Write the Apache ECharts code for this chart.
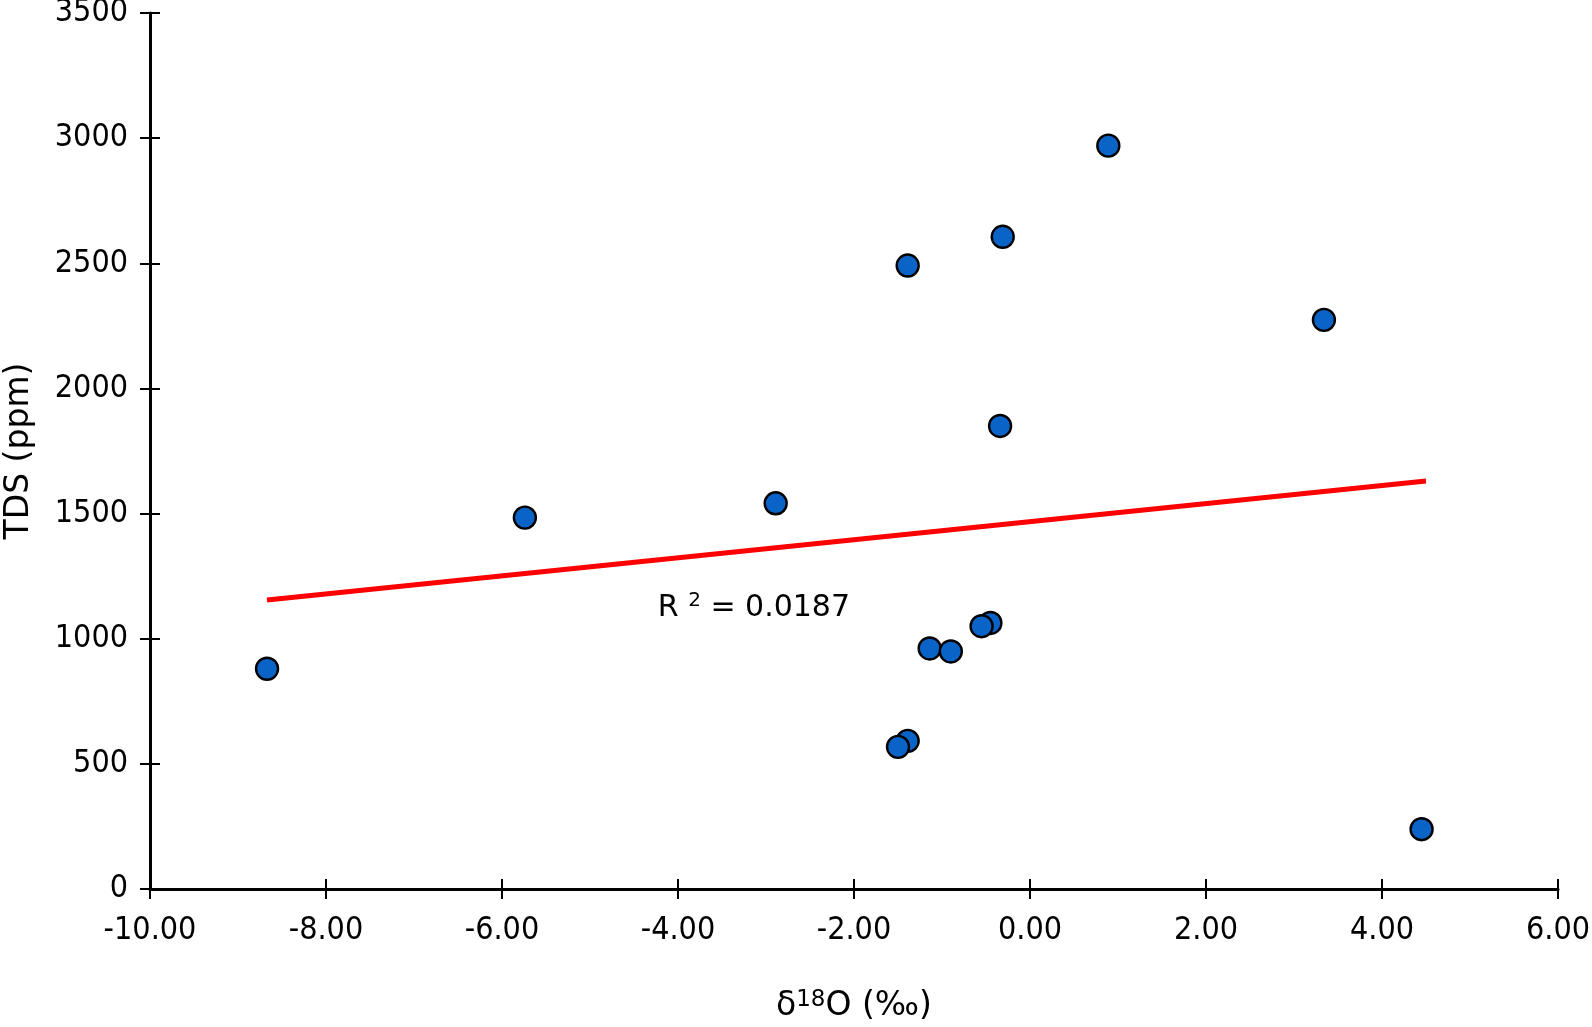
<!DOCTYPE html>
<html>
<head>
<meta charset="utf-8">
<script src="https://cdn.jsdelivr.net/npm/echarts@6/dist/echarts.min.js"></script>
<style>
html,body{margin:0;padding:0;background:#fff;}
#chart{width:1592px;height:1027px;}
</style>
</head>
<body>
<div id="chart"></div>
<script>
// δ18O (‰) values and TDS (ppm) values
const d18O = [-8.67, -5.74, -2.89, -1.39, -0.31, 0.89, 3.34, -0.34, -0.45, -0.55, -1.14, -0.90, -1.39, -1.50, 4.45];
const tds  = [880, 1484, 1541, 2491, 2606, 2970, 2274, 1850, 1063, 1050, 961, 949, 592, 568, 239];
// trend line end points
const trendX = [-8.67, 4.50];
const trendY = [1155, 1630];
// R² annotation
const r2Text = "0.0187";
const r2Pos = [-4.23, 1123];
const xTicks = { min: -10, max: 6, interval: 2 };
const yTicks = { min: 0, max: 3500, interval: 500 };

const FONT = '"DejaVu Sans Condensed", "DejaVu Sans", sans-serif';
const TFONT = '"DejaVu Sans", sans-serif';
const points = d18O.map((x, i) => [x, tds[i]]);
const trend = trendX.map((x, i) => [x, trendY[i]]);

const chart = echarts.init(document.getElementById('chart'), null, { renderer: 'canvas' });

const baseX = {
  type: 'value', min: xTicks.min, max: xTicks.max, interval: xTicks.interval,
  splitLine: { show: false }
};
const baseY = {
  type: 'value', min: yTicks.min, max: yTicks.max, interval: yTicks.interval,
  splitLine: { show: false }
};

chart.setOption({
  backgroundColor: '#ffffff',
  animation: false,
  grid: { left: 150, right: 34, top: 13, bottom: 138, containLabel: false, outerBoundsMode: 'none' },
  xAxis: [
    Object.assign({}, baseX, {
      name: 'δ{sup|18}O (‰)',
      nameLocation: 'middle',
      nameGap: 100,
      nameTextStyle: {
        fontFamily: TFONT, fontSize: 33, color: '#000',
        rich: { sup: { fontFamily: TFONT, fontSize: 23, color: '#000', verticalAlign: 'top', padding: [0, 0, 12, 0] } }
      },
      axisLine: { show: true, onZero: false, lineStyle: { color: '#000', width: 3 } },
      axisTick: { show: true, inside: false, length: 10, lineStyle: { color: '#000', width: 2 } },
      axisLabel: {
        fontFamily: FONT, fontSize: 32, color: '#000', margin: 26,
        formatter: v => v.toFixed(2)
      }
    }),
    Object.assign({}, baseX, {
      gridIndex: 0,
      position: 'bottom',
      axisLine: { show: false, onZero: false },
      axisTick: { show: true, inside: true, length: 10, lineStyle: { color: '#000', width: 2 } },
      axisLabel: { show: false }
    })
  ],
  yAxis: [
    Object.assign({}, baseY, {
      name: 'TDS (ppm)',
      nameLocation: 'middle',
      nameGap: 114,
      nameTextStyle: { fontFamily: TFONT, fontSize: 33, color: '#000' },
      axisLine: { show: true, onZero: false, lineStyle: { color: '#000', width: 3 } },
      axisTick: { show: true, inside: false, length: 10, lineStyle: { color: '#000', width: 2 } },
      axisLabel: { fontFamily: FONT, fontSize: 32, color: '#000', margin: 22, padding: [6, 0, 0, 0], formatter: v => String(v) }
    }),
    Object.assign({}, baseY, {
      gridIndex: 0,
      position: 'left',
      axisLine: { show: false, onZero: false },
      axisTick: { show: true, inside: true, length: 10, lineStyle: { color: '#000', width: 2 } },
      axisLabel: { show: false }
    })
  ],
  series: [
    {
      type: 'line',
      data: trend,
      xAxisIndex: 0, yAxisIndex: 0,
      symbol: 'none',
      lineStyle: { color: '#ff0000', width: 5 },
      z: 2
    },
    {
      type: 'scatter',
      data: points,
      xAxisIndex: 0, yAxisIndex: 0,
      symbol: 'circle',
      symbolSize: 22,
      itemStyle: { color: '#0a64c8', borderColor: '#000', borderWidth: 2.4, opacity: 1 },
      z: 3
    }
  ]
});

const p = chart.convertToPixel({ xAxisIndex: 0, yAxisIndex: 0 }, r2Pos);
chart.setOption({
  graphic: [{
    type: 'text',
    x: p[0],
    y: p[1],
    z: 10,
    style: {
      text: '{a|R }{s|2}{a| = ' + r2Text + '}',
      verticalAlign: 'middle',
      align: 'left',
      fill: '#000',
      rich: {
        a: { fontFamily: TFONT, fontSize: 30, fill: '#000', color: '#000' },
        s: { fontFamily: TFONT, fontSize: 20, fill: '#000', color: '#000', verticalAlign: 'top', padding: [0, 0, 14, 0] }
      }
    }
  }]
});
</script>
</body>
</html>
